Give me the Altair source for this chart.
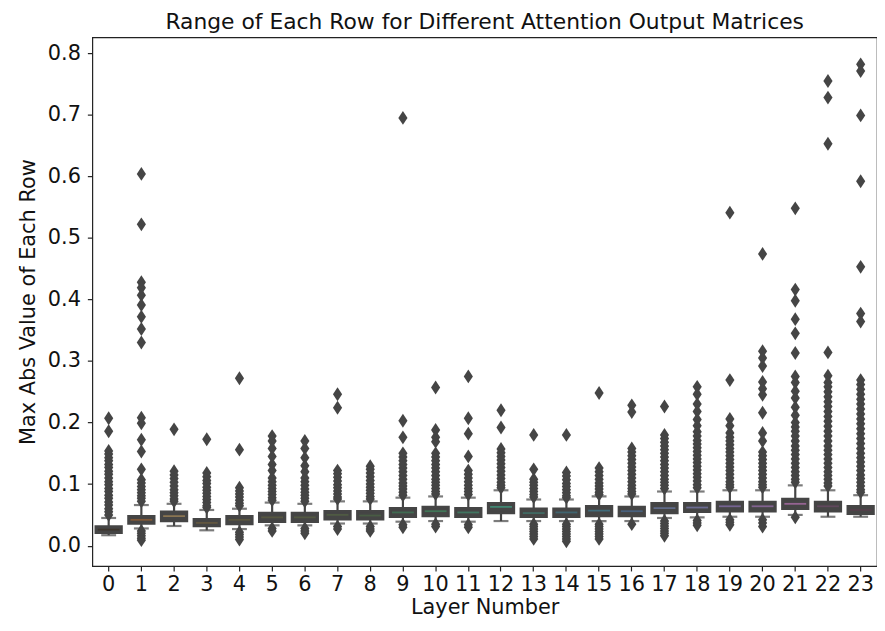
import altair as alt
import pandas as pd

layers = [str(i) for i in range(24)]

q1s = [0.021, 0.036, 0.040, 0.032, 0.035, 0.039, 0.039, 0.043, 0.043, 0.047, 0.048, 0.047,
       0.053, 0.047, 0.047, 0.048, 0.048, 0.053, 0.055, 0.056, 0.056, 0.060, 0.056, 0.052]
medians = [0.026, 0.042, 0.048, 0.037, 0.042, 0.046, 0.046, 0.050, 0.049, 0.054, 0.056, 0.054,
           0.063, 0.053, 0.054, 0.057, 0.056, 0.061, 0.062, 0.064, 0.064, 0.068, 0.064, 0.058]
q3s = [0.031, 0.048, 0.055, 0.043, 0.048, 0.053, 0.053, 0.056, 0.056, 0.061, 0.063, 0.061,
       0.069, 0.060, 0.060, 0.064, 0.063, 0.069, 0.069, 0.071, 0.071, 0.076, 0.071, 0.064]
whisker_lo = [0.017, 0.028, 0.032, 0.025, 0.027, 0.033, 0.033, 0.036, 0.036, 0.039, 0.040, 0.039,
              0.040, 0.040, 0.040, 0.040, 0.040, 0.045, 0.046, 0.047, 0.047, 0.050, 0.047, 0.047]
whisker_hi = [0.045, 0.066, 0.068, 0.058, 0.060, 0.070, 0.068, 0.072, 0.072, 0.078, 0.080, 0.078,
              0.090, 0.075, 0.075, 0.080, 0.080, 0.088, 0.088, 0.090, 0.090, 0.098, 0.090, 0.082]

box_colors = ["#3b2f22", "#9a6030", "#a88a58", "#6e5e3e", "#625c3c", "#5e6040", "#5a6242",
              "#546443", "#4c6645", "#3f7c58", "#3f8a60", "#3f8a6c", "#40a284", "#3f7a70",
              "#3f7282", "#3f7c92", "#4a6c94", "#6c7ca6", "#7c7cb4", "#8c72b4", "#9c70b0",
              "#b872b4", "#6e4a68", "#5a3c4c"]

outliers_by_layer = [
    [0.207, 0.186, 0.154, 0.149, 0.143, 0.138, 0.132, 0.127, 0.121, 0.116, 0.110, 0.104,
     0.099, 0.093, 0.088, 0.082, 0.077, 0.071, 0.066, 0.060, 0.055, 0.050],
    [0.604, 0.522, 0.428, 0.419, 0.407, 0.391, 0.372, 0.352, 0.330, 0.208, 0.199, 0.172,
     0.153, 0.124, 0.107, 0.102, 0.096, 0.091, 0.086, 0.081, 0.077, 0.072,
     0.024, 0.020, 0.016, 0.012, 0.009],
    [0.189, 0.121, 0.115, 0.109, 0.103, 0.097, 0.091, 0.086, 0.081, 0.076, 0.072],
    [0.173, 0.118, 0.112, 0.106, 0.101, 0.095, 0.090, 0.085, 0.080, 0.075, 0.070, 0.065, 0.062],
    [0.272, 0.156, 0.094, 0.089, 0.084, 0.079, 0.074, 0.069, 0.065,
     0.022, 0.018, 0.014, 0.010],
    [0.178, 0.170, 0.158, 0.145, 0.132, 0.122, 0.110, 0.104, 0.098, 0.093, 0.088, 0.083,
     0.078, 0.074, 0.028, 0.024],
    [0.170, 0.158, 0.143, 0.130, 0.120, 0.110, 0.104, 0.098, 0.092, 0.087, 0.082, 0.077,
     0.072, 0.028, 0.024, 0.020],
    [0.246, 0.224, 0.122, 0.117, 0.111, 0.105, 0.099, 0.094, 0.089, 0.084, 0.079, 0.076,
     0.031, 0.027],
    [0.129, 0.124, 0.118, 0.112, 0.106, 0.100, 0.095, 0.090, 0.085, 0.080, 0.076,
     0.031, 0.027, 0.024],
    [0.695, 0.203, 0.176, 0.150, 0.144, 0.138, 0.132, 0.126, 0.120, 0.114, 0.108, 0.102,
     0.097, 0.092, 0.087, 0.082, 0.034, 0.030],
    [0.257, 0.188, 0.176, 0.169, 0.150, 0.144, 0.138, 0.132, 0.126, 0.120, 0.114, 0.108,
     0.103, 0.098, 0.093, 0.088, 0.084, 0.035, 0.031],
    [0.275, 0.207, 0.182, 0.145, 0.122, 0.116, 0.110, 0.104, 0.098, 0.093, 0.088, 0.083,
     0.034, 0.030],
    [0.220, 0.192, 0.157, 0.151, 0.145, 0.139, 0.133, 0.127, 0.121, 0.115, 0.109, 0.103,
     0.098, 0.094],
    [0.180, 0.124, 0.108, 0.103, 0.098, 0.093, 0.088, 0.083, 0.079,
     0.035, 0.031, 0.027, 0.023, 0.019, 0.015, 0.011],
    [0.180, 0.119, 0.113, 0.107, 0.101, 0.096, 0.091, 0.086, 0.081, 0.078,
     0.035, 0.031, 0.027, 0.023, 0.019, 0.015, 0.011, 0.007],
    [0.248, 0.126, 0.120, 0.114, 0.108, 0.102, 0.097, 0.092, 0.087, 0.083,
     0.035, 0.031, 0.027, 0.023, 0.019, 0.015, 0.011],
    [0.228, 0.217, 0.158, 0.152, 0.146, 0.140, 0.134, 0.128, 0.122, 0.116, 0.110, 0.104,
     0.098, 0.093, 0.088, 0.084, 0.035],
    [0.226, 0.180, 0.174, 0.168, 0.162, 0.156, 0.150, 0.144, 0.138, 0.132, 0.126, 0.120,
     0.114, 0.108, 0.103, 0.098, 0.093,
     0.040, 0.036, 0.032, 0.028, 0.024, 0.020, 0.016],
    [0.258, 0.246, 0.230, 0.218, 0.205, 0.195, 0.185, 0.178, 0.171, 0.165, 0.159, 0.153,
     0.147, 0.141, 0.135, 0.129, 0.123, 0.117, 0.111, 0.105, 0.099, 0.094,
     0.041, 0.037, 0.033],
    [0.541, 0.269, 0.206, 0.195, 0.183, 0.176, 0.170, 0.164, 0.158, 0.152, 0.146, 0.140,
     0.134, 0.128, 0.122, 0.116, 0.110, 0.104, 0.099, 0.095, 0.042, 0.038, 0.034],
    [0.474, 0.316, 0.305, 0.292, 0.266, 0.255, 0.245, 0.216, 0.183, 0.170, 0.152, 0.146,
     0.140, 0.134, 0.128, 0.122, 0.116, 0.110, 0.104, 0.099, 0.095, 0.042, 0.037, 0.031],
    [0.548, 0.416, 0.398, 0.368, 0.345, 0.313, 0.275, 0.265, 0.251, 0.240, 0.225, 0.212,
     0.200, 0.193, 0.186, 0.178, 0.170, 0.162, 0.155, 0.148, 0.141, 0.134, 0.127, 0.120,
     0.114, 0.108, 0.103, 0.046],
    [0.755, 0.728, 0.653, 0.314, 0.276, 0.265, 0.258, 0.250, 0.242, 0.234, 0.226, 0.218,
     0.210, 0.202, 0.194, 0.186, 0.178, 0.170, 0.162, 0.155, 0.148, 0.141, 0.134, 0.127,
     0.120, 0.114, 0.108, 0.102, 0.097],
    [0.782, 0.771, 0.699, 0.592, 0.453, 0.377, 0.364, 0.269, 0.262, 0.254, 0.246, 0.238,
     0.230, 0.222, 0.214, 0.206, 0.198, 0.190, 0.182, 0.174, 0.166, 0.158, 0.150, 0.143,
     0.136, 0.129, 0.122, 0.115, 0.109, 0.103, 0.097, 0.091, 0.087],
]

y_ticks = [0.0, 0.1, 0.2, 0.3, 0.4, 0.5, 0.6, 0.7, 0.8]

title_text = "Range of Each Row for Different Attention Output Matrices"
x_title = "Layer Number"
y_title = "Max Abs Value of Each Row"

boxes = pd.DataFrame({
    "layer": layers, "q1": q1s, "median": medians, "q3": q3s,
    "lo": whisker_lo, "hi": whisker_hi, "color": box_colors,
})
outs = pd.DataFrame(
    [{"layer": l, "value": v} for l, vals in zip(layers, outliers_by_layer) for v in vals]
)

EDGE = "#454545"
FONT = "DejaVu Sans"

x_enc = alt.X("layer:N", sort=layers,
              scale=alt.Scale(type="band", paddingInner=0, paddingOuter=0),
              axis=alt.Axis(title=x_title, labelAngle=0))
y_scale = alt.Scale(domain=[-0.033, 0.826], nice=False, zero=False)
y_axis = alt.Axis(title=y_title, values=y_ticks, format=".1f")

base = alt.Chart(boxes)

whiskers = base.mark_rule(color=EDGE, strokeWidth=2.2).encode(
    x=x_enc,
    y=alt.Y("lo:Q", scale=y_scale, axis=y_axis),
    y2="hi:Q",
)
caps_lo = base.mark_tick(color=EDGE, size=15, thickness=2.2).encode(
    x=x_enc, y=alt.Y("lo:Q", scale=y_scale, axis=y_axis))
caps_hi = base.mark_tick(color=EDGE, size=15, thickness=2.2).encode(
    x=x_enc, y=alt.Y("hi:Q", scale=y_scale, axis=y_axis))
box = base.mark_bar(size=26, color=EDGE, stroke=EDGE, strokeWidth=2.5).encode(
    x=x_enc,
    y=alt.Y("q1:Q", scale=y_scale, axis=y_axis),
    y2="q3:Q",
)
med = base.mark_tick(size=22, thickness=1.8).encode(
    x=x_enc,
    y=alt.Y("median:Q", scale=y_scale, axis=y_axis),
    color=alt.Color("color:N", scale=None),
)
points = alt.Chart(outs).mark_point(
    shape="M0,-1L0.66,0L0,1L-0.66,0Z", size=196, filled=True, opacity=1,
    color=EDGE, fill=EDGE, strokeWidth=0,
).encode(
    x=x_enc,
    y=alt.Y("value:Q", scale=y_scale, axis=y_axis),
)

chart = alt.layer(whiskers, caps_lo, caps_hi, box, med, points).properties(
    width=791, height=533,
    title=alt.TitleParams(title_text, font=FONT, fontSize=22, fontWeight="normal",
                          color="#111", offset=3),
    padding={"left": 9, "top": 1, "right": 0, "bottom": 5},
).configure_view(
    stroke="#222", strokeWidth=1.2
).configure_axis(
    grid=False, domain=False, ticks=True, tickColor="#222", tickSize=5, tickWidth=1.2,
    labelFont=FONT, labelFontSize=21, labelColor="#111",
    titleFont=FONT, titleFontSize=21, titleColor="#111", titleFontWeight="normal",
).configure_axisY(
    labelPadding=7, titlePadding=9
).configure_axisX(
    labelPadding=3, titlePadding=2
)

chart.save("out.html", embed_options={"renderer": "svg", "actions": False})
